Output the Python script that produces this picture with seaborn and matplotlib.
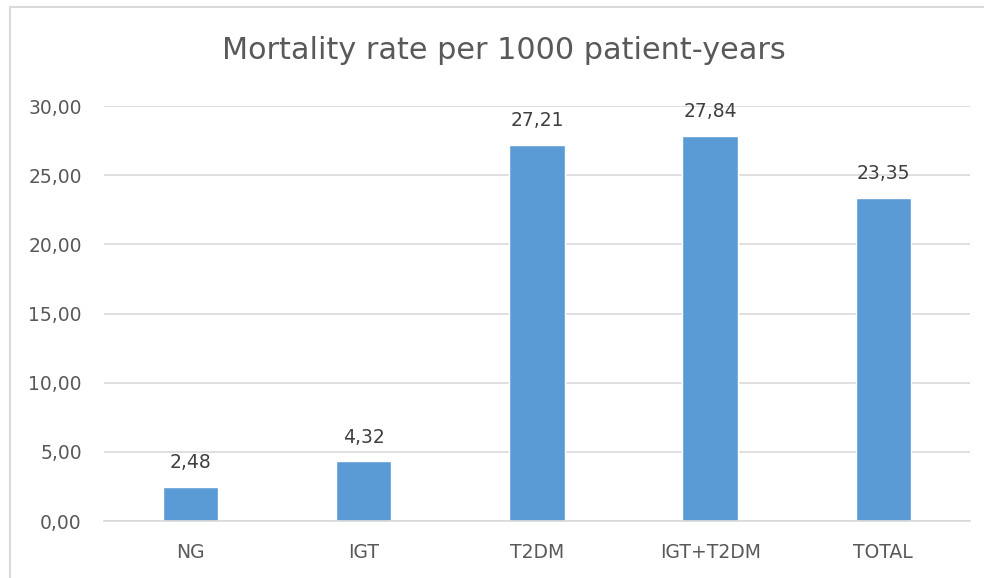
import matplotlib.pyplot as plt
import pandas as pd
import seaborn as sns
from matplotlib.patches import Rectangle

# data
groups = ["NG", "IGT", "T2DM", "IGT+T2DM", "TOTAL"]
rates = [2.48, 4.32, 27.21, 27.84, 23.35]

df = pd.DataFrame({"group": groups, "rate": rates})

sns.set_style("white")
plt.rcParams["font.family"] = ["DejaVu Sans"]

text_color = "#595959"
label_color = "#404040"
grid_color = "#D9D9D9"
bar_color = "#5B9BD5"

fig = plt.figure(figsize=(9.84, 5.78), dpi=100)
ax = fig.add_axes([0.1057, 0.0986, 0.88, 0.718])

sns.barplot(
    data=df,
    x="group",
    y="rate",
    color=bar_color,
    width=0.32,
    saturation=1,
    ax=ax
)

ax.set_ylim(0, 30)
ax.set_yticks(range(0, 31, 5))
ax.set_yticklabels([f"{v:.2f}".replace(".", ",") for v in range(0, 31, 5)])
ax.set_xlim(-0.5, 4.5)

ax.yaxis.grid(True, color=grid_color, linewidth=1.2)
ax.set_axisbelow(True)
for side in ["top", "right", "left"]:
    ax.spines[side].set_visible(False)
ax.spines["bottom"].set_color(grid_color)
ax.spines["bottom"].set_linewidth(1.2)

ax.tick_params(axis="y", length=0, pad=16, labelsize=13.5, labelcolor=text_color)
ax.tick_params(axis="x", length=0, pad=16, labelsize=13.5, labelcolor=text_color)
ax.set_xlabel("")
ax.set_ylabel("")

# value labels above bars
for i, v in enumerate(rates):
    ax.annotate(
        f"{v:.2f}".replace(".", ","),
        (i, v),
        xytext=(0, 10.5),
        textcoords="offset points",
        ha="center",
        va="bottom",
        fontsize=13.5,
        color=label_color
    )

fig.text(0.512, 0.912, "Mortality rate per 1000 patient-years",
         ha="center", va="center", fontsize=21.8, color=text_color)

# chart frame
fig.patches.append(Rectangle(
    (10 / 984, -0.05), 1.0, 1 - 6.5 / 578 + 0.05,
    transform=fig.transFigure, fill=False,
    edgecolor=grid_color, linewidth=1.5
))

fig.savefig("out.png", dpi=100)
